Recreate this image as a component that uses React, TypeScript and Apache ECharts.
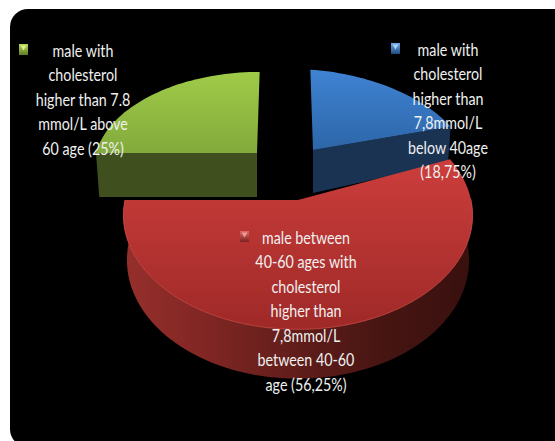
import React, { useEffect, useRef } from "react";
import * as echarts from "echarts";

// Shares of male patients by age group, in drawing order (clockwise from 12 o'clock).
const sliceNames = ["below 40", "40-60", "above 60"];
const sliceValues = [18.75, 56.25, 25];

const sliceLabels = [
  "male with\ncholesterol\nhigher than\n7,8mmol/L\nbelow 40age\n(18,75%)",
  "male between\n40-60 ages with\ncholesterol\nhigher than\n7,8mmol/L\nbetween 40-60\nage (56,25%)",
  "male with\ncholesterol\nhigher than 7.8\nmmol/L above\n60 age (25%)",
];

type Pose = {
  cx: number; cy: number; rx: number; ry: number; lean: number; shear: number;
  depth: number; taper: number;
};

const VIEW_DISTANCE = 7.45;
const BOTTOM_SHRINK = 0.98;

// Each exploded wedge sits at its own offset and is seen from a slightly different angle.
const poses: Pose[] = [
  { cx: 313, cy: 150, rx: 158, ry: 91, lean: -3, shear: 0.07, depth: 43, taper: 0.4 },
  { cx: 298, cy: 200, rx: 173, ry: 112, lean: 0, shear: 0, depth: 44, taper: 0.12 },
  { cx: 257, cy: 153, rx: 161, ry: 92, lean: 3, shear: 0, depth: 44, taper: 0.1 },
];

const vertical = (a: string, b: string) =>
  new echarts.graphic.LinearGradient(0, 0, 0, 1, [
    { offset: 0, color: a },
    { offset: 1, color: b },
  ]);

const topFills = [
  () => vertical("#3F83D3", "#2D66A8"),
  () => vertical("#CC3E3C", "#9E2927"),
  () => vertical("#9FCB48", "#82AA3C"),
];

const wallFills = [
  () => "#1A3353",
  () =>
    new echarts.graphic.LinearGradient(0, 0, 1, 0, [
      { offset: 0, color: "#962F2C" },
      { offset: 0.22, color: "#822724" },
      { offset: 0.5, color: "#601D1A" },
      { offset: 0.75, color: "#461512" },
      { offset: 1, color: "#38100E" },
    ]),
  () => "#3F4F1E",
];

const labelAnchors = [
  { x: 448, y: 37 },
  { x: 306, y: 225 },
  { x: 83, y: 38 },
];

const markerBoxes = [
  { x: 391, y: 43, fillA: "#6FA8E8", fillB: "#1F4A80", tip: "#A8D0F5" },
  { x: 240, y: 231, fillA: "#E06A66", fillB: "#7E2220", tip: "#F09A96" },
  { x: 19, y: 44, fillA: "#B8DC5C", fillB: "#5E7A26", tip: "#DDF08A" },
];

const MARKER_W = 9;
const MARKER_H = 11;
const LABEL_SQUEEZE = 0.84;

const rad = (deg: number) => (deg * Math.PI) / 180;

// Projects a rim point (angle clockwise from the top) onto the page.
function rimPoint(p: Pose, deg: number, radius = 1): [number, number] {
  const sx = Math.sin(rad(deg)) * radius;
  const z = Math.cos(rad(deg)) * radius;
  const s = VIEW_DISTANCE / (VIEW_DISTANCE + z);
  const px = s * (sx * p.rx + p.lean * z);
  return [p.cx + px, p.cy - s * z * p.ry + p.shear * Math.max(px, 0)];
}

function lowerPoint(p: Pose, deg: number, radius = 1): [number, number] {
  const [x, y] = rimPoint(p, deg, radius);
  const z = Math.cos(rad(deg)) * radius;
  return [p.cx + (x - p.cx) * BOTTOM_SHRINK, y + p.depth * (1 - p.taper * z)];
}

function arcAngles(start: number, end: number): number[] {
  const out: number[] = [];
  const steps = Math.max(2, Math.ceil((end - start) / 2));
  for (let i = 0; i <= steps; i++) out.push(start + ((end - start) * i) / steps);
  return out;
}

function renderWedge(params: any, api: any) {
  const i = params.dataIndex;
  const start = api.value(1);
  const end = api.value(2);
  const p = poses[i];
  const angles = arcAngles(start, end);
  const children: any[] = [];
  const wall = wallFills[i]();

  const front = angles.filter((a) => Math.cos(rad(a)) <= 0.02);
  if (front.length > 1) {
    children.push({
      type: "polygon",
      shape: {
        points: [
          ...front.map((a) => rimPoint(p, a)),
          ...front.slice().reverse().map((a) => lowerPoint(p, a)),
        ],
      },
      style: { fill: wall },
    });
  }

  // Cut faces are drawn only when they turn towards the viewer.
  const drawCut = (deg: number) =>
    children.push({
      type: "polygon",
      shape: {
        points: [rimPoint(p, deg, 0), rimPoint(p, deg), lowerPoint(p, deg), lowerPoint(p, deg, 0)],
      },
      style: { fill: wall },
    });
  if (Math.sin(rad(start)) < -0.01) drawCut(start);
  if (Math.sin(rad(end)) > 0.01) drawCut(end);

  children.push({
    type: "polygon",
    shape: { points: [rimPoint(p, 0, 0), ...angles.map((a) => rimPoint(p, a))] },
    style: { fill: topFills[i]() },
  });

  if (front.length > 1) {
    children.push({
      type: "polyline",
      shape: { points: front.map((a) => rimPoint(p, a)) },
      style: { fill: "none", stroke: "#D9514C", lineWidth: 1, opacity: 0.7 },
    });
  }
  return { type: "group", children };
}

function renderLabel(params: any) {
  const i = params.dataIndex;
  const a = labelAnchors[i];
  const m = markerBoxes[i];
  return {
    type: "group",
    children: [
      {
        type: "rect",
        shape: { x: m.x, y: m.y, width: MARKER_W, height: MARKER_H },
        style: { fill: vertical(m.fillA, m.fillB) },
      },
      {
        type: "polygon",
        shape: {
          points: [
            [m.x + 1.5, m.y + 1.5],
            [m.x + MARKER_W - 1.5, m.y + 1.5],
            [m.x + MARKER_W / 2, m.y + MARKER_H / 2 + 1],
          ],
        },
        style: { fill: m.tip },
      },
      {
        type: "text",
        x: a.x,
        y: a.y,
        scaleX: LABEL_SQUEEZE,
        style: {
          text: sliceLabels[i],
          x: 0,
          y: 0,
          align: "center",
          verticalAlign: "top",
          lineHeight: 24.5,
          fontFamily: "Lato",
          fontSize: 17,
          fill: "#F0F0F0",
        },
      },
    ],
  };
}

function buildOption() {
  const total = sliceValues.reduce((a, b) => a + b, 0);
  let running = 0;
  const wedges = sliceValues.map((v, i) => {
    const start = (running / total) * 360;
    running += v;
    return { name: sliceNames[i], value: [v, start, (running / total) * 360] };
  });
  return {
    animation: false,
    backgroundColor: "#FFFFFF",
    graphic: [
      {
        type: "rect",
        shape: { x: 10, y: 9, width: 550, height: 438, r: [18, 4, 0, 18] },
        style: { fill: "#000000" },
        silent: true,
      },
    ],
    series: [
      {
        type: "custom",
        coordinateSystem: "none",
        renderItem: renderWedge,
        data: wedges,
        silent: true,
        z: 2,
      },
      {
        type: "custom",
        coordinateSystem: "none",
        renderItem: renderLabel,
        data: wedges,
        silent: true,
        z: 5,
      },
    ],
  };
}

export default function App() {
  const ref = useRef<HTMLDivElement>(null);
  useEffect(() => {
    if (!ref.current) return;
    const chart = echarts.init(ref.current, undefined, { renderer: "svg" });
    chart.setOption(buildOption() as any);
    return () => chart.dispose();
  }, []);
  return <div ref={ref} style={{ position: "fixed", left: 0, top: 0, width: 555, height: 441 }} />;
}
